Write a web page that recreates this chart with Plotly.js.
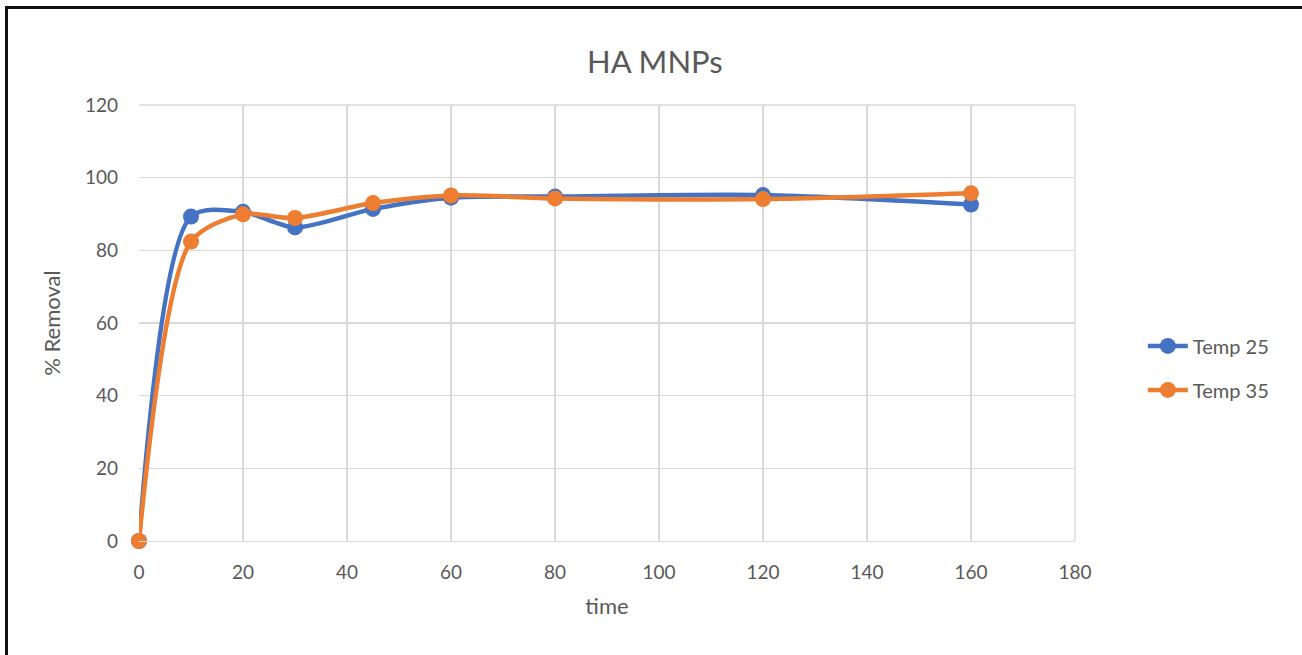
<!DOCTYPE html>
<html>
<head>
<meta charset="utf-8">
<script src="https://cdn.plot.ly/plotly-3.0.1.min.js"></script>
<style>
  html, body { margin: 0; padding: 0; background: #fff; overflow: hidden; }
  #chart { width: 1302px; height: 655px; position: absolute; left: 0; top: 0; }
  #frame {
    position: absolute; left: 5px; top: 6px; width: 1400px; height: 700px;
    border-left: 3px solid #111; border-top: 3px solid #111;
    pointer-events: none;
  }
</style>
</head>
<body>
<div id="chart"></div>
<div id="frame"></div>
<script>
// contact time (min)
const time = [0, 10, 20, 30, 45, 60, 80, 120, 160];
// % removal at each temperature
const temp25 = [0, 89.3, 90.6, 86.3, 91.4, 94.5, 94.8, 95.2, 92.6];
const temp35 = [0, 82.4, 89.9, 88.9, 93.0, 95.1, 94.3, 94.1, 95.7];

const FONT = 'Lato, "Open Sans", sans-serif';
const GREY = '#595959';

const traces = [
  {
    x: time, y: temp25, name: 'Temp 25', type: 'scatter', mode: 'lines+markers',
    legendgroup: 'a', cliponaxis: false,
    line: { color: '#4472C4', width: 4.5, shape: 'spline', smoothing: 0.8 },
    marker: { color: '#4472C4', size: 16 }
  },
  {
    x: time, y: temp35, name: 'Temp 35', type: 'scatter', mode: 'lines+markers',
    legendgroup: 'b', cliponaxis: false,
    line: { color: '#ED7D31', width: 4.5, shape: 'spline', smoothing: 0.8 },
    marker: { color: '#ED7D31', size: 16 }
  }
];

const layout = {
  width: 1302, height: 655,
  margin: { l: 139, r: 227, t: 105, b: 114 },
  paper_bgcolor: '#fff', plot_bgcolor: '#fff',
  font: { family: FONT, color: GREY, size: 19 },
  title: { text: 'HA MNPs', x: 0.503, xref: 'container', y: 0.922, yref: 'container',
           font: { family: FONT, size: 31, color: GREY } },
  xaxis: {
    range: [0, 180], dtick: 20, tick0: 0,
    showgrid: true, gridcolor: '#d9d9d9', gridwidth: 1.3,
    zeroline: false, showline: true, linecolor: '#d9d9d9', linewidth: 1.3,
    mirror: false, ticks: '', ticklabelstandoff: 14,
    tickfont: { size: 19, color: GREY },
    title: { text: 'time', font: { size: 22, color: GREY }, standoff: 16 }
  },
  yaxis: {
    range: [0, 120], dtick: 20, tick0: 0,
    showgrid: true, gridcolor: '#d9d9d9', gridwidth: 1.3,
    zeroline: false, showline: false, ticks: '', ticklabelstandoff: 20,
    tickfont: { size: 19, color: GREY },
    title: { text: '% Removal', font: { size: 22, color: GREY }, standoff: 18 }
  },
  shapes: [
    { type: 'line', xref: 'paper', yref: 'paper', x0: 0, x1: 1, y0: 1, y1: 1,
      line: { color: '#d9d9d9', width: 1.3 } },
    { type: 'line', xref: 'paper', yref: 'paper', x0: 1, x1: 1, y0: 0, y1: 1,
      line: { color: '#d9d9d9', width: 1.3 } }
  ],
  legend: {
    x: 1.0725, xanchor: 'left', y: 0.397, yanchor: 'middle',
    font: { size: 20, color: GREY }, tracegroupgap: 15,
    itemwidth: 40, bgcolor: 'rgba(0,0,0,0)'
  },
  showlegend: true
};

Plotly.newPlot('chart', traces, layout, { displayModeBar: false, staticPlot: true });
</script>
</body>
</html>
